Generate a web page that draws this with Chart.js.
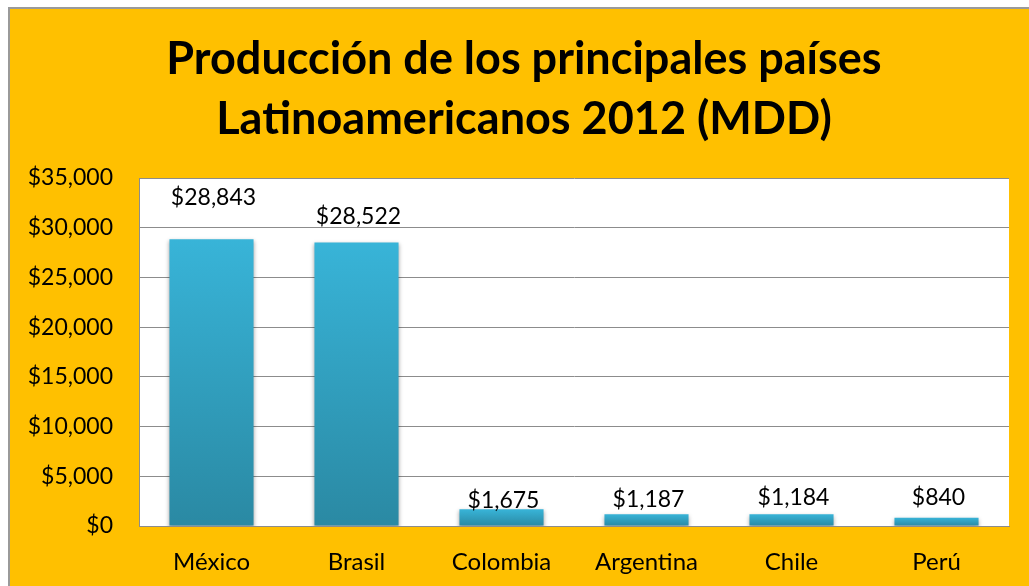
<!DOCTYPE html>
<html lang="es">
<head>
<meta charset="UTF-8">
<title>Producción 2012</title>
<script src="https://cdn.jsdelivr.net/npm/chart.js"></script>
<style>
  html, body { margin: 0; padding: 0; background: #fff; }
  #frame {
    position: absolute; left: 8px; top: 7px;
    width: 1021px; height: 579px;
    background: #FFC000;
    border-top: 2px solid #9a9a9a;
    border-left: 2px solid #9a9a9a;
    box-sizing: border-box;
  }
  canvas { display: block; }
</style>
</head>
<body>
<div id="frame"><canvas id="chart" width="1019" height="577"></canvas></div>
<script>
const countries = ['México', 'Brasil', 'Colombia', 'Argentina', 'Chile', 'Perú'];
const production = [28843, 28522, 1675, 1187, 1184, 840];
const yTicks = [0, 5000, 10000, 15000, 20000, 25000, 30000, 35000];
const titleLines = ['Producción de los principales países', 'Latinoamericanos 2012 (MDD)'];

// how far each value label sits above its bar (px)
const labelLift = [42, 26, 9, 15, 17, 20];

const FONT = 'Lato, "Open Sans", sans-serif';
const money = v => '$' + v.toLocaleString('en-US');

function barGradient(ctx) {
  const chart = ctx.chart;
  if (!chart.chartArea || ctx.type !== 'data') return '#34a9cb';
  const y = chart.scales.y;
  const top = y.getPixelForValue(ctx.parsed.y);
  const base = y.getPixelForValue(0);
  const g = chart.ctx.createLinearGradient(0, top, 0, base);
  g.addColorStop(0, '#38b4d8');
  g.addColorStop(1, '#2a89a3');
  return g;
}

const plotBackground = {
  id: 'plotBackground',
  beforeDraw(chart) {
    const { ctx, chartArea: a } = chart;
    ctx.save();
    ctx.fillStyle = '#ffffff';
    ctx.fillRect(a.left, a.top, a.right - a.left, a.bottom - a.top);
    ctx.restore();
  }
};

// two-line heading, centred slightly right of the canvas middle
const heading = {
  id: 'heading',
  afterDraw(chart) {
    const ctx = chart.ctx;
    ctx.save();
    ctx.font = 'bold 45px ' + FONT;
    ctx.fillStyle = '#000';
    ctx.textAlign = 'center';
    ctx.textBaseline = 'middle';
    titleLines.forEach((line, i) => ctx.fillText(line, 514, 50 + i * 60));
    ctx.restore();
  }
};

const barShadow = {
  id: 'barShadow',
  beforeDatasetDraw(chart) {
    const ctx = chart.ctx;
    ctx.save();
    ctx.shadowColor = 'rgba(0,0,0,0.35)';
    ctx.shadowBlur = 4;
    ctx.shadowOffsetY = 2;
  },
  afterDatasetDraw(chart) {
    chart.ctx.restore();
  }
};

const valueLabels = {
  id: 'valueLabels',
  afterDatasetsDraw(chart) {
    const ctx = chart.ctx;
    const meta = chart.getDatasetMeta(0);
    ctx.save();
    ctx.font = '23px ' + FONT;
    ctx.fillStyle = '#000';
    ctx.textAlign = 'center';
    ctx.textBaseline = 'middle';
    meta.data.forEach((bar, i) => {
      ctx.fillText(money(production[i]), bar.x + 2, bar.y - labelLift[i]);
    });
    ctx.restore();
  }
};

new Chart(document.getElementById('chart'), {
  type: 'bar',
  data: {
    labels: countries,
    datasets: [{
      data: production,
      backgroundColor: barGradient,
      borderWidth: 0,
      barPercentage: 0.58,
      categoryPercentage: 1
    }]
  },
  options: {
    responsive: false,
    animation: false,
    layout: { padding: { left: 0, right: 20, top: 169, bottom: 0 } },
    plugins: {
      legend: { display: false },
      tooltip: { enabled: false },
      title: { display: false }
    },
    scales: {
      x: {
        grid: { display: false, drawTicks: false },
        border: { display: true, color: '#8c8c8c', width: 1 },
        ticks: { color: '#000', font: { family: FONT, size: 24 }, padding: 22 },
        afterFit(scale) { scale.height = 60; }
      },
      y: {
        min: 0,
        max: 35000,
        afterBuildTicks(scale) { scale.ticks = yTicks.map(v => ({ value: v })); },
        grid: { color: '#8c8c8c', lineWidth: 1, drawTicks: false },
        border: { display: true, color: '#8c8c8c', width: 1 },
        ticks: {
          color: '#000',
          font: { family: FONT, size: 23 },
          padding: 26,
          callback: v => money(v)
        },
        afterFit(scale) { scale.width = 129; }
      }
    }
  },
  plugins: [plotBackground, heading, barShadow, valueLabels]
});
</script>
</body>
</html>
